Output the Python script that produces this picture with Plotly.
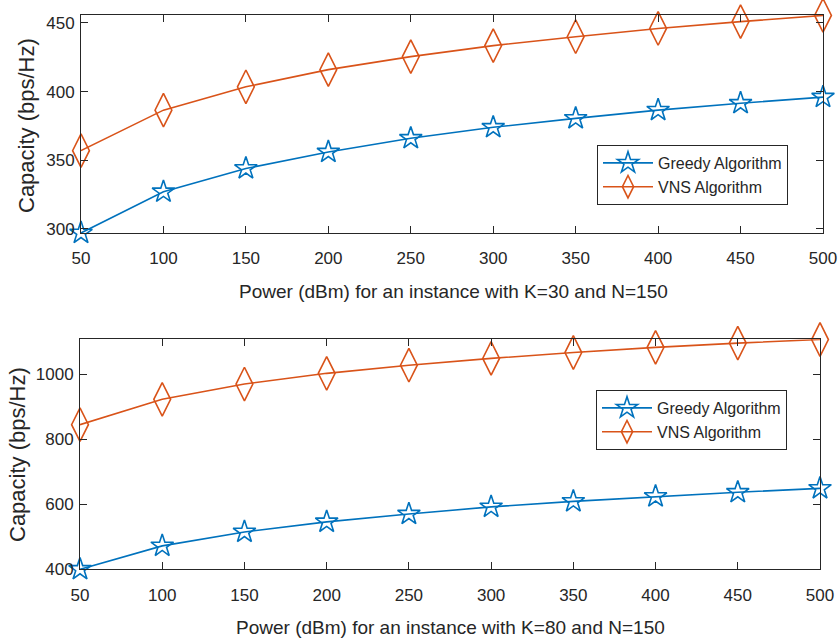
import plotly.graph_objects as go

power = [50, 100, 150, 200, 250, 300, 350, 400, 450, 500]
x_ticks = [50, 100, 150, 200, 250, 300, 350, 400, 450, 500]

greedy_k30 = [297, 327, 344, 356, 366, 374, 380.5, 386.5, 391.5, 396]
vns_k30 = [357, 386.5, 403.5, 416, 425.5, 433.5, 440, 446, 451, 455.5]

greedy_k80 = [400, 472, 515, 546, 570, 592, 609, 624, 637, 649]
vns_k80 = [845, 923, 970, 1003, 1028, 1049, 1067, 1083, 1096, 1107]

y_ticks_top = [300, 350, 400, 450]
y_ticks_bottom = [400, 600, 800, 1000]

xtitle_top = "Power (dBm) for an instance with K=30 and N=150"
xtitle_bottom = "Power (dBm) for an instance with K=80 and N=150"
ytitle = "Capacity (bps/Hz)"

BLUE = "#0072BD"
ORANGE = "#D95319"
AXC = "#262626"
FONT = "Liberation Sans, Arial, sans-serif"
W, H = 839, 641

fig = go.Figure()

def add_series(xa, ya, leg, g, v):
    fig.add_trace(go.Scatter(x=power, y=g, mode="lines+markers", name="Greedy Algorithm",
                             xaxis=xa, yaxis=ya, legend=leg, cliponaxis=False,
                             line=dict(color=BLUE, width=1.6),
                             marker=dict(symbol="star-open", size=17, color=BLUE,
                                         line=dict(width=1.6, color=BLUE))))
    fig.add_trace(go.Scatter(x=power, y=v, mode="lines+markers", name="VNS Algorithm",
                             xaxis=xa, yaxis=ya, legend=leg, cliponaxis=False,
                             line=dict(color=ORANGE, width=1.6),
                             marker=dict(symbol="diamond-tall-open", size=24, color=ORANGE,
                                         line=dict(width=1.6, color=ORANGE))))

add_series("x", "y", "legend", greedy_k30, vns_k30)
add_series("x2", "y2", "legend2", greedy_k80, vns_k80)

axis_common = dict(showline=True, linecolor=AXC, linewidth=1, mirror="ticks",
                   ticks="inside", ticklen=7, tickcolor=AXC, tickwidth=1,
                   showgrid=False, zeroline=False, automargin=False,
                   tickfont=dict(family=FONT, size=17, color=AXC))

def px_y(p):
    return 1 - p / H

def px_x(p):
    return p / W

fig.update_layout(
    width=W, height=H,
    margin=dict(l=0, r=0, t=0, b=0),
    paper_bgcolor="white", plot_bgcolor="white",
    font=dict(family=FONT, color=AXC),
    xaxis=dict(domain=[px_x(81), px_x(823)], range=[50, 500], anchor="y",
               tickvals=x_ticks, ticklabelstandoff=10, **axis_common),
    yaxis=dict(domain=[px_y(233), px_y(15)], range=[297, 455.8], anchor="x",
               tickvals=y_ticks_top, ticklabelstandoff=2, **axis_common),
    xaxis2=dict(domain=[px_x(80), px_x(820)], range=[50, 500], anchor="y2",
                tickvals=x_ticks, ticklabelstandoff=10, **axis_common),
    yaxis2=dict(domain=[px_y(569.3), px_y(339.3)], range=[400, 1107.7], anchor="x2",
                tickvals=y_ticks_bottom, ticklabelstandoff=2, **axis_common),
    legend=dict(x=px_x(597), y=px_y(145), xanchor="left", yanchor="top",
                bgcolor="white", bordercolor=AXC, borderwidth=1,
                font=dict(family=FONT, size=16, color=AXC), itemwidth=50,
                tracegroupgap=0),
    legend2=dict(x=px_x(596), y=px_y(390), xanchor="left", yanchor="top",
                 bgcolor="white", bordercolor=AXC, borderwidth=1,
                 font=dict(family=FONT, size=16, color=AXC), itemwidth=50,
                 tracegroupgap=0),
    showlegend=True,
    annotations=[
        dict(text=xtitle_top, xref="paper", yref="paper", x=px_x(453), y=px_y(291),
             xanchor="center", yanchor="middle", showarrow=False,
             font=dict(family=FONT, size=19, color=AXC)),
        dict(text=xtitle_bottom, xref="paper", yref="paper", x=px_x(450), y=px_y(627),
             xanchor="center", yanchor="middle", showarrow=False,
             font=dict(family=FONT, size=19, color=AXC)),
        dict(text=ytitle, xref="paper", yref="paper", x=px_x(27), y=px_y(126),
             xanchor="center", yanchor="middle", showarrow=False, textangle=-90,
             font=dict(family=FONT, size=22, color=AXC)),
        dict(text=ytitle, xref="paper", yref="paper", x=px_x(17), y=px_y(455),
             xanchor="center", yanchor="middle", showarrow=False, textangle=-90,
             font=dict(family=FONT, size=22, color=AXC)),
    ],
)

fig.write_html("out.html", config={"displayModeBar": False},
               post_script="document.body.style.margin='0';document.body.style.padding='0';")
